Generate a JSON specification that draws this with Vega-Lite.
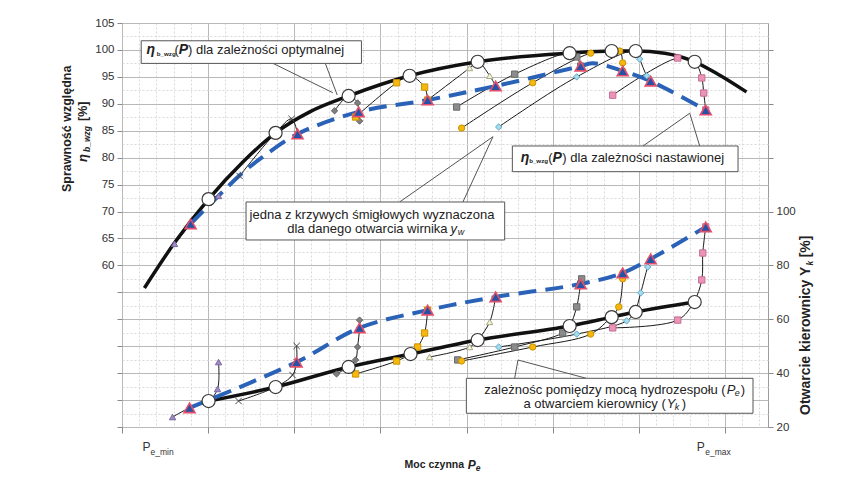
{
"$schema": "https://vega.github.io/schema/vega-lite/v6.json",
"width": 646, "height": 404,
"autosize": "none",
"padding": {"left": 122, "top": 23, "right": 96, "bottom": 50},
"background": "white",
"config": {
  "font": "Liberation Sans",
  "view": {"stroke": "#9c9c9c", "strokeWidth": 1},
  "axis": {"labelFont": "Liberation Sans", "labelFontSize": 11.5, "labelColor": "#333333", "domain": false, "tickColor": "#8a8a8a", "title": null}
},
"datasets": {
  "opt": [
    {"P": 0.26, "eta": 55.8, "c": 0}, {"P": 0.61, "eta": 64.2, "c": 0}, {"P": 1.005, "eta": 72.3, "c": 1},
    {"P": 1.403, "eta": 79.2, "c": 0}, {"P": 1.783, "eta": 84.6, "c": 1}, {"P": 2.18, "eta": 88.5, "c": 0},
    {"P": 2.631, "eta": 91.45, "c": 1}, {"P": 3.339, "eta": 95.2, "c": 1}, {"P": 4.129, "eta": 97.8, "c": 1},
    {"P": 5.197, "eta": 99.4, "c": 1}, {"P": 5.685, "eta": 99.8, "c": 1}, {"P": 5.964, "eta": 99.8, "c": 1},
    {"P": 6.30, "eta": 99.4, "c": 0}, {"P": 6.649, "eta": 97.8, "c": 1}, {"P": 6.94, "eta": 95.3, "c": 0},
    {"P": 7.25, "eta": 92.2, "c": 0}
  ],
  "optk": [
    {"P": 1.005, "Yk": 29.65}, {"P": 1.783, "Yk": 34.85}, {"P": 2.631, "Yk": 42.3}, {"P": 3.35, "Yk": 47.1},
    {"P": 4.129, "Yk": 52.3}, {"P": 5.197, "Yk": 57.5}, {"P": 5.685, "Yk": 60.8}, {"P": 5.964, "Yk": 62.7},
    {"P": 6.649, "Yk": 66.4}
  ],
  "set": [
    {"P": 0.796, "eta": 67.7, "t": 1}, {"P": 1.40, "eta": 77.2, "t": 0}, {"P": 1.632, "eta": 80.1, "t": 0},
    {"P": 2.038, "eta": 84.4, "t": 1}, {"P": 2.747, "eta": 88.5, "t": 1}, {"P": 3.548, "eta": 90.7, "t": 1},
    {"P": 4.338, "eta": 93.3, "t": 1}, {"P": 5.325, "eta": 97.0, "t": 1}, {"P": 5.47, "eta": 97.55, "t": 0},
    {"P": 5.813, "eta": 96.1, "t": 1}, {"P": 6.138, "eta": 94.2, "t": 1}, {"P": 6.777, "eta": 88.85, "t": 1}
  ],
  "setk": [
    {"P": 0.784, "Yk": 27.1}, {"P": 2.027, "Yk": 44.1}, {"P": 2.758, "Yk": 56.8}, {"P": 3.548, "Yk": 63.4},
    {"P": 4.338, "Yk": 68.3}, {"P": 5.325, "Yk": 73.1}, {"P": 5.813, "Yk": 77.2}, {"P": 6.138, "Yk": 82.4},
    {"P": 6.777, "Yk": 94.3}
  ],
  "prop": [
    {"s": "s1", "i": 1, "P": 0.610, "eta": 64.0}, {"s": "s1", "i": 2, "P": 0.796, "eta": 67.7}, {"s": "s1", "i": 3, "P": 1.005, "eta": 72.3}, {"s": "s1", "i": 4, "P": 1.121, "eta": 72.9},
    {"s": "s2", "i": 1, "P": 1.365, "eta": 76.6}, {"s": "s2", "i": 2, "P": 1.783, "eta": 84.6}, {"s": "s2", "i": 3, "P": 1.969, "eta": 87.2}, {"s": "s2", "i": 4, "P": 2.038, "eta": 84.4},
    {"s": "s3", "i": 1, "P": 2.468, "eta": 88.7}, {"s": "s3", "i": 2, "P": 2.631, "eta": 91.45}, {"s": "s3", "i": 3, "P": 2.735, "eta": 90.15}, {"s": "s3", "i": 4, "P": 2.747, "eta": 88.5}, {"s": "s3", "i": 5, "P": 2.758, "eta": 86.8},
    {"s": "s4", "i": 1, "P": 2.712, "eta": 87.55}, {"s": "s4", "i": 2, "P": 3.188, "eta": 93.9}, {"s": "s4", "i": 3, "P": 3.339, "eta": 95.2}, {"s": "s4", "i": 4, "P": 3.513, "eta": 93.1}, {"s": "s4", "i": 5, "P": 3.548, "eta": 90.7},
    {"s": "s5", "i": 1, "P": 3.548, "eta": 90.7}, {"s": "s5", "i": 2, "P": 4.036, "eta": 96.65}, {"s": "s5", "i": 3, "P": 4.129, "eta": 97.8}, {"s": "s5", "i": 4, "P": 4.269, "eta": 95.2}, {"s": "s5", "i": 5, "P": 4.338, "eta": 93.3},
    {"s": "s6", "i": 1, "P": 3.885, "eta": 89.4}, {"s": "s6", "i": 2, "P": 4.559, "eta": 95.5}, {"s": "s6", "i": 3, "P": 5.197, "eta": 99.4}, {"s": "s6", "i": 4, "P": 5.279, "eta": 98.7}, {"s": "s6", "i": 5, "P": 5.325, "eta": 97.0},
    {"s": "s7", "i": 1, "P": 3.943, "eta": 85.5}, {"s": "s7", "i": 2, "P": 4.768, "eta": 93.9}, {"s": "s7", "i": 3, "P": 5.441, "eta": 99.4}, {"s": "s7", "i": 4, "P": 5.685, "eta": 99.8}, {"s": "s7", "i": 5, "P": 5.778, "eta": 99.8}, {"s": "s7", "i": 6, "P": 5.813, "eta": 97.6}, {"s": "s7", "i": 7, "P": 5.813, "eta": 96.1},
    {"s": "s8", "i": 1, "P": 4.373, "eta": 85.7}, {"s": "s8", "i": 2, "P": 5.279, "eta": 95.0}, {"s": "s8", "i": 3, "P": 5.964, "eta": 99.8}, {"s": "s8", "i": 4, "P": 6.010, "eta": 98.3}, {"s": "s8", "i": 5, "P": 6.092, "eta": 95.2}, {"s": "s8", "i": 6, "P": 6.138, "eta": 94.2},
    {"s": "s9", "i": 1, "P": 5.697, "eta": 91.6}, {"s": "s9", "i": 2, "P": 6.452, "eta": 98.5}, {"s": "s9", "i": 3, "P": 6.649, "eta": 97.8}, {"s": "s9", "i": 4, "P": 6.731, "eta": 94.8}, {"s": "s9", "i": 5, "P": 6.754, "eta": 92.0}, {"s": "s9", "i": 6, "P": 6.777, "eta": 88.85}
  ],
  "propk": [
    {"s": "s1", "i": 1, "P": 0.587, "Yk": 23.7}, {"s": "s1", "i": 2, "P": 0.784, "Yk": 27.1}, {"s": "s1", "i": 3, "P": 1.005, "Yk": 29.65}, {"s": "s1", "i": 4, "P": 1.109, "Yk": 34.1}, {"s": "s1", "i": 5, "P": 1.121, "Yk": 44.1},
    {"s": "s2", "i": 1, "P": 1.353, "Yk": 29.65}, {"s": "s2", "i": 2, "P": 1.783, "Yk": 34.85}, {"s": "s2", "i": 3, "P": 1.980, "Yk": 39.3}, {"s": "s2", "i": 4, "P": 2.027, "Yk": 44.1}, {"s": "s2", "i": 5, "P": 2.027, "Yk": 50.1},
    {"s": "s3", "i": 1, "P": 2.491, "Yk": 39.7}, {"s": "s3", "i": 2, "P": 2.631, "Yk": 42.3}, {"s": "s3", "i": 3, "P": 2.712, "Yk": 44.9}, {"s": "s3", "i": 4, "P": 2.735, "Yk": 49.7}, {"s": "s3", "i": 5, "P": 2.758, "Yk": 56.8}, {"s": "s3", "i": 6, "P": 2.758, "Yk": 59.7},
    {"s": "s4", "i": 1, "P": 2.712, "Yk": 39.7}, {"s": "s4", "i": 2, "P": 3.188, "Yk": 44.5}, {"s": "s4", "i": 3, "P": 3.35, "Yk": 47.1}, {"s": "s4", "i": 4, "P": 3.432, "Yk": 49.7}, {"s": "s4", "i": 5, "P": 3.513, "Yk": 54.9}, {"s": "s4", "i": 6, "P": 3.548, "Yk": 63.4},
    {"s": "s5", "i": 1, "P": 3.571, "Yk": 46.0}, {"s": "s5", "i": 2, "P": 4.036, "Yk": 49.7}, {"s": "s5", "i": 3, "P": 4.129, "Yk": 52.3}, {"s": "s5", "i": 4, "P": 4.269, "Yk": 59.0}, {"s": "s5", "i": 5, "P": 4.338, "Yk": 68.3},
    {"s": "s6", "i": 1, "P": 3.897, "Yk": 44.9}, {"s": "s6", "i": 2, "P": 4.559, "Yk": 49.7}, {"s": "s6", "i": 3, "P": 5.116, "Yk": 54.9}, {"s": "s6", "i": 4, "P": 5.197, "Yk": 57.5}, {"s": "s6", "i": 5, "P": 5.279, "Yk": 64.6}, {"s": "s6", "i": 6, "P": 5.325, "Yk": 73.1}, {"s": "s6", "i": 7, "P": 5.337, "Yk": 75.0},
    {"s": "s7", "i": 1, "P": 3.943, "Yk": 44.5}, {"s": "s7", "i": 2, "P": 4.768, "Yk": 49.7}, {"s": "s7", "i": 3, "P": 5.441, "Yk": 54.5}, {"s": "s7", "i": 4, "P": 5.674, "Yk": 60.8}, {"s": "s7", "i": 5, "P": 5.767, "Yk": 64.6}, {"s": "s7", "i": 6, "P": 5.813, "Yk": 75.0}, {"s": "s7", "i": 7, "P": 5.813, "Yk": 77.2},
    {"s": "s8", "i": 1, "P": 4.373, "Yk": 49.7}, {"s": "s8", "i": 2, "P": 5.279, "Yk": 54.5}, {"s": "s8", "i": 3, "P": 5.859, "Yk": 59.4}, {"s": "s8", "i": 4, "P": 5.952, "Yk": 62.7}, {"s": "s8", "i": 5, "P": 6.022, "Yk": 69.8}, {"s": "s8", "i": 6, "P": 6.103, "Yk": 79.4}, {"s": "s8", "i": 7, "P": 6.138, "Yk": 82.4},
    {"s": "s9", "i": 1, "P": 5.697, "Yk": 56.8}, {"s": "s9", "i": 2, "P": 6.452, "Yk": 59.7}, {"s": "s9", "i": 3, "P": 6.638, "Yk": 66.4}, {"s": "s9", "i": 4, "P": 6.731, "Yk": 74.6}, {"s": "s9", "i": 5, "P": 6.743, "Yk": 84.6}, {"s": "s9", "i": 6, "P": 6.777, "Yk": 94.3}
  ],
  "lead": [
    {"P": 1.751, "eta": 97.52, "P2": 2.448, "eta2": 92.06},
    {"P": 2.360, "eta": 97.52, "P2": 2.499, "eta2": 91.63},
    {"P": 6.049, "eta": 82.17, "P2": 6.591, "eta2": 88.24},
    {"P": 6.707, "eta": 82.17, "P2": 6.591, "eta2": 88.24},
    {"P": 3.223, "eta": 71.77, "P2": 4.307, "eta2": 83.89},
    {"P": 3.958, "eta": 71.77, "P2": 4.307, "eta2": 83.89},
    {"P": 4.559, "eta": 39.04, "P2": 4.597, "eta2": 42.44},
    {"P": 5.391, "eta": 39.04, "P2": 4.597, "eta2": 42.44}
  ],
  "box": [
    {"P": 0.223, "P2": 2.780, "eta": 101.7, "eta2": 97.5},
    {"P": 4.532, "P2": 7.152, "eta": 82.17, "eta2": 77.40},
    {"P": 1.440, "P2": 4.443, "eta": 71.77, "eta2": 64.72},
    {"P": 3.998, "P2": 7.326, "eta": 39.04, "eta2": 32.55}
  ],
  "lab": [
    {"g": "bi", "t": "η", "P": 0.284, "eta": 99.9},
    {"g": "bs", "t": "b_wzg", "P": 0.404, "eta": 99.3},
    {"g": "n", "t": "(", "P": 0.610, "eta": 99.9},
    {"g": "bi", "t": "P", "P": 0.660, "eta": 99.9},
    {"g": "n", "t": ") dla zależności optymalnej", "P": 0.767, "eta": 99.9},
    {"g": "bi", "t": "η", "P": 4.628, "eta": 79.9},
    {"g": "bs", "t": "b_wzg", "P": 4.727, "eta": 79.3},
    {"g": "n", "t": "(", "P": 4.948, "eta": 79.9},
    {"g": "bi", "t": "P", "P": 4.999, "eta": 79.9},
    {"g": "n", "t": ") dla zależności nastawionej", "P": 5.111, "eta": 79.9},
    {"g": "n", "t": "jedna z krzywych śmigłowych wyznaczona", "P": 1.481, "eta": 69.36},
    {"g": "nr", "t": "dla danego otwarcia wirnika", "P": 3.780, "eta": 66.76},
    {"g": "i", "t": "y", "P": 3.815, "eta": 66.76},
    {"g": "is", "t": "w", "P": 3.897, "eta": 66.2},
    {"g": "nr", "t": "zależnośc pomiędzy mocą hydrozespołu (", "P": 7.009, "eta": 36.87},
    {"g": "i", "t": "P", "P": 7.021, "eta": 36.87},
    {"g": "is", "t": "e", "P": 7.114, "eta": 36.31},
    {"g": "n", "t": ")", "P": 7.184, "eta": 36.87},
    {"g": "nr", "t": "a otwarciem kierownicy (", "P": 6.313, "eta": 34.27},
    {"g": "i", "t": "Y", "P": 6.324, "eta": 34.27},
    {"g": "is", "t": "k", "P": 6.417, "eta": 33.72},
    {"g": "n", "t": ")", "P": 6.498, "eta": 34.27},
    {"g": "tb", "t": "Moc czynna", "P": 3.281, "eta": 22.95},
    {"g": "tbi", "t": "P", "P": 4.013, "eta": 22.95},
    {"g": "tbs", "t": "e", "P": 4.106, "eta": 22.4},
    {"g": "ax", "t": "P", "P": 0.238, "eta": 26.29},
    {"g": "axs", "t": "e_min", "P": 0.331, "eta": 25.36},
    {"g": "ax", "t": "P", "P": 6.672, "eta": 26.29},
    {"g": "axs", "t": "e_max", "P": 6.771, "eta": 25.36},
    {"g": "rtb", "t": "Sprawność względna", "P": -0.639, "eta": 73.63},
    {"g": "rtbi", "t": "η", "P": -0.447, "eta": 79.2},
    {"g": "rtbs", "t": "b_wzg", "P": -0.412, "eta": 81.05},
    {"g": "rtb", "t": "[%]", "P": -0.447, "eta": 86.8},
    {"g": "rtr", "t": "Otwarcie kierownicy Y", "P": 7.941, "eta": 32.23},
    {"g": "rtbs", "t": "k", "P": 7.984, "eta": 60.0},
    {"g": "rtr", "t": "[%]", "P": 7.941, "eta": 61.5}
  ]
},
"encoding": {
  "x": {"field": "P", "type": "quantitative",
    "scale": {"domain": [0, 7.5], "nice": false, "zero": false},
    "axis": {"values": [0,0.2,0.4,0.6,0.8,1,1.2,1.4,1.6,1.8,2,2.2,2.4,2.6,2.8,3,3.2,3.4,3.6,3.8,4,4.2,4.4,4.6,4.8,5,5.2,5.4,5.6,5.8,6,6.2,6.4,6.6,6.8,7,7.2,7.4],
      "labels": false, "title": null, "domain": false, "grid": true, "ticks": true, "tickSize": 6,
      "gridColor": {"condition": {"test": "datum.value % 1 == 0", "value": "#b9b9b9"}, "value": "#d9d9d9"},
      "gridDash": {"condition": {"test": "datum.value % 1 == 0", "value": []}, "value": [2, 2]},
      "tickOpacity": {"condition": {"test": "datum.value % 1 == 0", "value": 1}, "value": 0}}}
},
"resolve": {"scale": {"y": "independent"}},
"layer": [
  {
    "encoding": {
      "y": {"field": "Yk", "type": "quantitative",
        "scale": {"domain": [20, 170], "nice": false, "zero": false},
        "axis": {"orient": "right", "values": [20,40,60,80,100,120,140,160], "labelExpr": "datum.value <= 100 ? datum.label : ''",
          "grid": false, "title": null, "tickSize": 5, "labelPadding": 3, "domain": false}}
    },
    "layer": [
      {"data": {"name": "propk"}, "mark": {"type": "line", "color": "#1a1a1a", "strokeWidth": 1, "interpolate": "catmull-rom"},
       "encoding": {"detail": {"field": "s"}, "order": {"field": "i", "type": "quantitative"}}},
      {"data": {"name": "optk"}, "mark": {"type": "line", "color": "#111111", "strokeWidth": 3.5, "interpolate": "monotone"}, "encoding": {}},
      {"data": {"name": "setk"}, "mark": {"type": "line", "color": "#2a62b8", "strokeWidth": 4, "strokeDash": [18, 9], "interpolate": "catmull-rom"}, "encoding": {}},
      {"data": {"name": "propk"}, "mark": {"type": "point", "filled": true, "size": 40, "strokeWidth": 1, "opacity": 1},
       "encoding": {
         "shape": {"field": "s", "type": "nominal", "legend": null, "scale": {"domain": ["s1","s2","s3","s4","s5","s6","s7","s8","s9"], "range": ["triangle-up","M-1,-1L1,1M-1,1L1,-1","diamond","square","triangle-up","square","circle","diamond","square"]}},
         "fill": {"field": "s", "type": "nominal", "legend": null, "scale": {"domain": ["s1","s2","s3","s4","s5","s6","s7","s8","s9"], "range": ["#a38cc6","#555555","#7f7f7f","#f6b80e","#f3f3d2","#8c8c8c","#f6b80e","#a4dcf0","#ec94b8"]}},
         "stroke": {"field": "s", "type": "nominal", "legend": null, "scale": {"domain": ["s1","s2","s3","s4","s5","s6","s7","s8","s9"], "range": ["#7a66a0","#444444","#606060","#c99400","#a9a98e","#6a6a6a","#c99400","#5ea6c6","#c46f93"]}}
       }},
      {"data": {"name": "optk"}, "mark": {"type": "point", "shape": "circle", "filled": true, "size": 170, "fill": "white", "stroke": "#3a3a3a", "strokeWidth": 1.2, "opacity": 1}, "encoding": {}},
      {"data": {"name": "setk"}, "mark": {"type": "point", "shape": "triangle-up", "filled": true, "size": 120, "fill": "#2452a6", "stroke": "#e24f6a", "strokeWidth": 1.6, "opacity": 1}, "encoding": {}}
    ]
  },
  {
    "encoding": {
      "y": {"field": "eta", "type": "quantitative",
        "scale": {"domain": [30, 105], "nice": false, "zero": false},
        "axis": {"orient": "left", "values": [30,32.5,35,37.5,40,42.5,45,47.5,50,52.5,55,57.5,60,62.5,65,67.5,70,72.5,75,77.5,80,82.5,85,87.5,90,92.5,95,97.5,100,102.5,105],
          "labelExpr": "datum.value >= 60 && datum.value % 5 == 0 ? datum.label : ''",
          "title": null, "domain": false, "grid": true, "tickSize": 5, "labelPadding": 3,
          "gridColor": {"condition": {"test": "datum.value % 5 == 0", "value": "#b9b9b9"}, "value": "#d9d9d9"},
          "gridDash": {"condition": {"test": "datum.value % 5 == 0", "value": []}, "value": [2, 2]},
          "tickOpacity": {"condition": {"test": "datum.value % 5 == 0", "value": 1}, "value": 0}}}
    },
    "layer": [
      {"data": {"name": "prop"}, "mark": {"type": "line", "color": "#1a1a1a", "strokeWidth": 1, "interpolate": "catmull-rom"},
       "encoding": {"detail": {"field": "s"}, "order": {"field": "i", "type": "quantitative"}}},
      {"data": {"name": "opt"}, "mark": {"type": "line", "color": "#111111", "strokeWidth": 3.5, "interpolate": "monotone"}, "encoding": {}},
      {"data": {"name": "set"}, "mark": {"type": "line", "color": "#2a62b8", "strokeWidth": 4, "strokeDash": [18, 9], "interpolate": "catmull-rom"}, "encoding": {}},
      {"data": {"name": "prop"}, "mark": {"type": "point", "filled": true, "size": 40, "strokeWidth": 1, "opacity": 1},
       "encoding": {
         "shape": {"field": "s", "type": "nominal", "legend": null},
         "fill": {"field": "s", "type": "nominal", "legend": null},
         "stroke": {"field": "s", "type": "nominal", "legend": null}
       }},
      {"data": {"name": "opt"}, "transform": [{"filter": "datum.c == 1"}], "mark": {"type": "point", "shape": "circle", "filled": true, "size": 170, "fill": "white", "stroke": "#3a3a3a", "strokeWidth": 1.2, "opacity": 1}, "encoding": {}},
      {"data": {"name": "set"}, "transform": [{"filter": "datum.t == 1"}], "mark": {"type": "point", "shape": "triangle-up", "filled": true, "size": 120, "fill": "#2452a6", "stroke": "#e24f6a", "strokeWidth": 1.6, "opacity": 1}, "encoding": {}},
      {"data": {"name": "lead"}, "mark": {"type": "rule", "color": "#555555", "strokeWidth": 1},
       "encoding": {"x2": {"field": "P2"}, "y2": {"field": "eta2"}}},
      {"data": {"name": "box"}, "mark": {"type": "rect", "fill": "white", "stroke": "#555555", "strokeWidth": 1},
       "encoding": {"x2": {"field": "P2"}, "y2": {"field": "eta2"}}},
      {"data": {"name": "lab"}, "transform": [{"filter": "datum.g == 'n'"}], "mark": {"type": "text", "align": "left", "baseline": "middle", "fontSize": 13, "color": "#222222"}, "encoding": {"text": {"field": "t"}}},
      {"data": {"name": "lab"}, "transform": [{"filter": "datum.g == 'nr'"}], "mark": {"type": "text", "align": "right", "baseline": "middle", "fontSize": 13, "color": "#222222"}, "encoding": {"text": {"field": "t"}}},
      {"data": {"name": "lab"}, "transform": [{"filter": "datum.g == 'bi'"}], "mark": {"type": "text", "align": "left", "baseline": "middle", "fontSize": 14, "fontWeight": "bold", "fontStyle": "italic", "color": "#222222"}, "encoding": {"text": {"field": "t"}}},
      {"data": {"name": "lab"}, "transform": [{"filter": "datum.g == 'bs'"}], "mark": {"type": "text", "align": "left", "baseline": "middle", "fontSize": 6.2, "fontWeight": "bold", "color": "#222222"}, "encoding": {"text": {"field": "t"}}},
      {"data": {"name": "lab"}, "transform": [{"filter": "datum.g == 'i'"}], "mark": {"type": "text", "align": "left", "baseline": "middle", "fontSize": 13, "fontStyle": "italic", "color": "#222222"}, "encoding": {"text": {"field": "t"}}},
      {"data": {"name": "lab"}, "transform": [{"filter": "datum.g == 'is'"}], "mark": {"type": "text", "align": "left", "baseline": "middle", "fontSize": 9, "fontStyle": "italic", "color": "#222222"}, "encoding": {"text": {"field": "t"}}},
      {"data": {"name": "lab"}, "transform": [{"filter": "datum.g == 'tb'"}], "mark": {"type": "text", "align": "left", "baseline": "middle", "fontSize": 10.5, "fontWeight": "bold", "color": "#222222"}, "encoding": {"text": {"field": "t"}}},
      {"data": {"name": "lab"}, "transform": [{"filter": "datum.g == 'tbi'"}], "mark": {"type": "text", "align": "left", "baseline": "middle", "fontSize": 12, "fontWeight": "bold", "fontStyle": "italic", "color": "#222222"}, "encoding": {"text": {"field": "t"}}},
      {"data": {"name": "lab"}, "transform": [{"filter": "datum.g == 'tbs'"}], "mark": {"type": "text", "align": "left", "baseline": "middle", "fontSize": 8.5, "fontWeight": "bold", "fontStyle": "italic", "color": "#222222"}, "encoding": {"text": {"field": "t"}}},
      {"data": {"name": "lab"}, "transform": [{"filter": "datum.g == 'ax'"}], "mark": {"type": "text", "align": "left", "baseline": "middle", "fontSize": 12, "color": "#333333"}, "encoding": {"text": {"field": "t"}}},
      {"data": {"name": "lab"}, "transform": [{"filter": "datum.g == 'axs'"}], "mark": {"type": "text", "align": "left", "baseline": "middle", "fontSize": 8.5, "color": "#333333"}, "encoding": {"text": {"field": "t"}}},
      {"data": {"name": "lab"}, "transform": [{"filter": "datum.g == 'rtb'"}], "mark": {"type": "text", "align": "left", "baseline": "middle", "angle": 270, "fontSize": 12.5, "fontWeight": "bold", "color": "#222222"}, "encoding": {"text": {"field": "t"}}},
      {"data": {"name": "lab"}, "transform": [{"filter": "datum.g == 'rtr'"}], "mark": {"type": "text", "align": "left", "baseline": "middle", "angle": 270, "fontSize": 14, "fontWeight": "bold", "color": "#222222"}, "encoding": {"text": {"field": "t"}}},
      {"data": {"name": "lab"}, "transform": [{"filter": "datum.g == 'rtbi'"}], "mark": {"type": "text", "align": "left", "baseline": "middle", "angle": 270, "fontSize": 13, "fontWeight": "bold", "fontStyle": "italic", "color": "#222222"}, "encoding": {"text": {"field": "t"}}},
      {"data": {"name": "lab"}, "transform": [{"filter": "datum.g == 'rtbs'"}], "mark": {"type": "text", "align": "left", "baseline": "middle", "angle": 270, "fontSize": 8.5, "fontWeight": "bold", "fontStyle": "italic", "color": "#222222"}, "encoding": {"text": {"field": "t"}}}
    ]
  }
]
}
